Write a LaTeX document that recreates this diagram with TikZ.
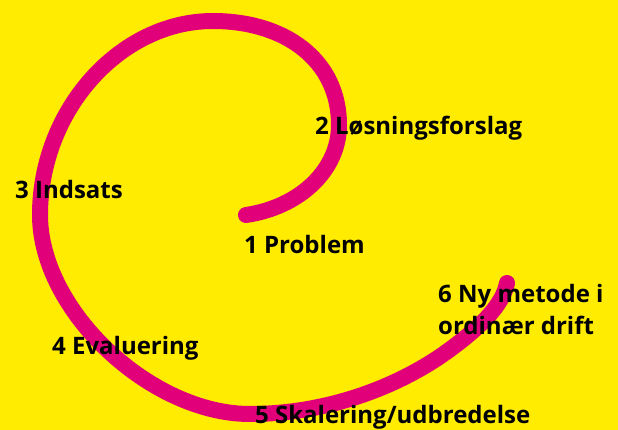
\documentclass[tikz,border=0pt]{standalone}
\usepackage{fontspec}
\setmainfont{Open Sans}
\usetikzlibrary{backgrounds}
\definecolor{spyellow}{HTML}{FFEC00}
\definecolor{spmagenta}{HTML}{E2007A}

\begin{document}
\begin{tikzpicture}[
    x=1pt, y=-1pt,
    spiral/.style={draw=spmagenta,line width=16pt,line cap=round},
    lbl/.style={anchor=base west,inner sep=0pt,font=\fontsize{24}{32}\selectfont\bfseries,
                align=left,text=black}]

  \fill[spyellow] (0,0) rectangle (618,430);
  \useasboundingbox (0,0) rectangle (618,430);

  % ---------------- the spiral, from the inner end outwards
  \draw[spiral] (246,215) .. controls (300,207) and (339,170) .. (339,125)
                .. controls (339,60) and (285,21) .. (213,21)
                .. controls (120,21) and (40,110) .. (40,215)
                .. controls (40,310) and (150,414) .. (250,414)
                .. controls (330,414) and (400,385) .. (445,353)
                .. controls (480,328) and (503,305) .. (507,283);

  % ---------------- the steps
  \node[lbl] (s1) at (244,254) {1 Problem};
  \node[lbl] (s2) at (315,135) {2 Løsningsforslag};
  \node[lbl] (s3) at (15,199) {3 Indsats};
  \node[lbl] (s4) at (52,354) {4 Evaluering};
  \node[lbl] (s5) at (255,423) {5 Skalering/udbredelse};
  \node[lbl] (s6) at (438,334) {6 Ny metode i\\ordinær drift};
\end{tikzpicture}
\end{document}
